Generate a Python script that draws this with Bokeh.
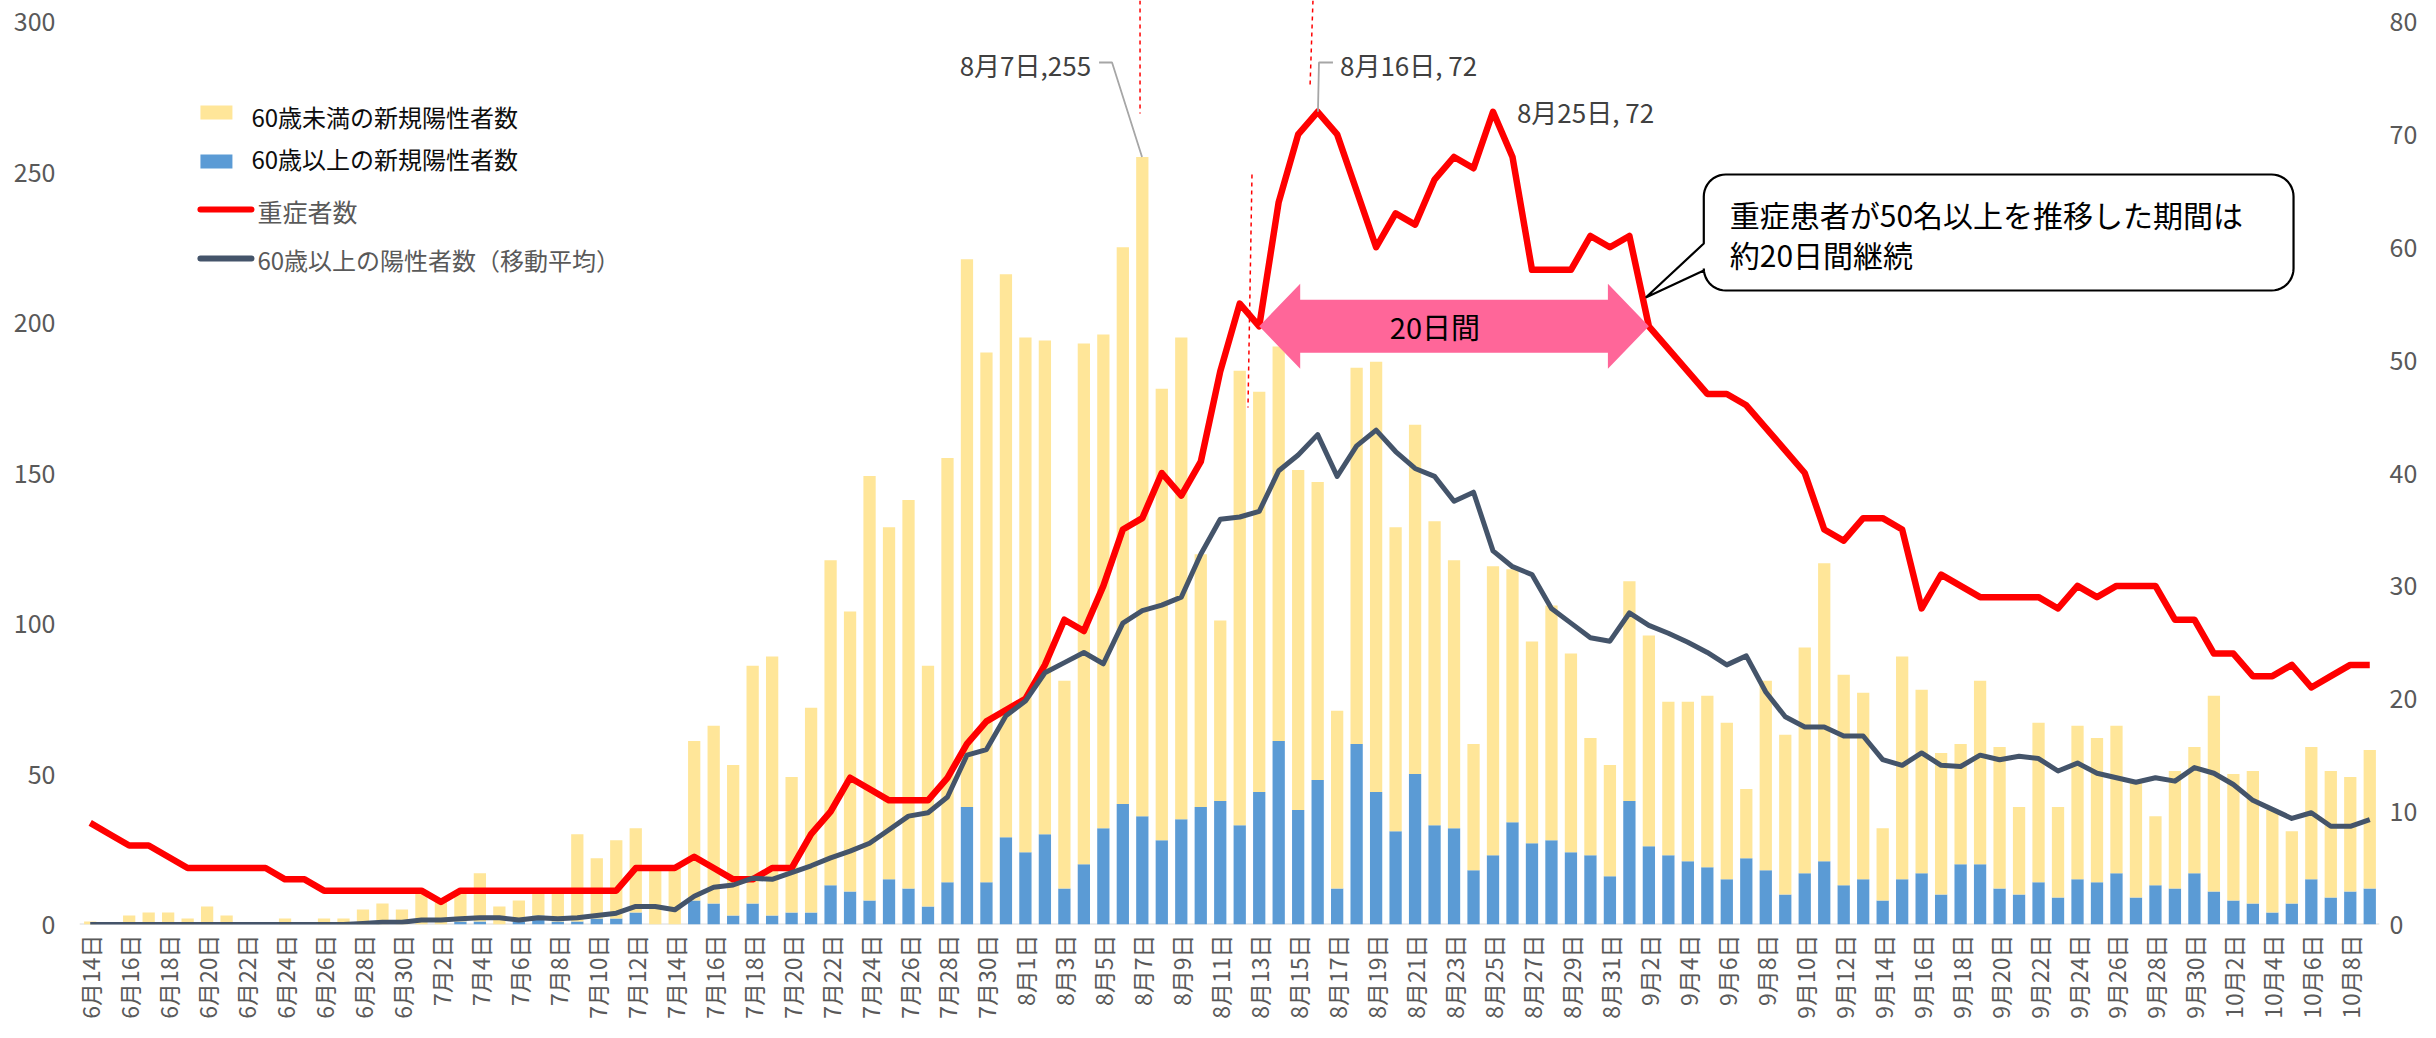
import numpy as np
import pandas as pd
from bokeh.plotting import figure
from bokeh.models import Range1d, LinearAxis, FixedTicker, Label, Span, ColumnDataSource
from bokeh.embed import file_html
from bokeh.resources import INLINE

# ---------------- data ----------------
dates = pd.date_range("2020-06-14", periods=118, freq="D")
date_labels = [f"{d.month}月{d.day}日" for d in dates]

# 60歳未満の新規陽性者数
under60 = [1, 0, 3, 4, 4, 2, 6, 3, 0, 0, 2, 0, 2, 2, 5, 7, 5,
           11, 8, 10, 16, 6, 7, 8, 10, 29, 20, 26, 28, 19, 19, 53, 59, 50, 79, 86, 45,
           68, 108, 93, 141, 117, 129, 80, 141, 182, 176, 187,
           171, 164, 69, 173, 164, 185, 219, 150, 160, 84, 60, 151, 133, 131, 113, 99,
           59, 125, 143, 101, 116, 101, 89, 42, 96, 84, 67, 78, 66, 39, 37,
           73, 70, 51, 53, 57, 52, 23, 63, 53, 75, 99, 70, 62, 24, 74, 61, 47, 40, 61,
           47, 29, 53, 30, 51, 48, 49, 38, 23, 39, 42,
           65, 42, 44, 34, 24, 44, 42, 38, 46]
# 60歳以上の新規陽性者数
over60 = [0] * 17 + \
         [0, 0, 1, 1, 0, 1, 3, 1, 1, 2, 2, 4, 0, 0, 8, 7, 3, 7, 3, 4, 4, 13, 11, 8, 15,
          12, 6, 14, 39, 14, 29] + \
         [24, 30, 12, 20, 32, 40, 36, 28, 35, 39, 41, 33, 44, 61, 38, 48, 12, 60, 44,
          31, 50, 33, 32, 18, 23, 34, 27, 28, 24, 23, 16] + \
         [41, 26, 23, 21, 19, 15, 22, 18, 10, 17, 21, 13, 15, 8, 15, 17, 10, 20, 20, 12,
          10, 14, 9, 15, 14, 17, 9, 13, 12, 17] + \
         [11, 8, 7, 4, 7, 15, 9, 11, 12]
# 重症者数 (right axis)
severe = [9, 8, 7, 7, 6, 5, 5, 5, 5, 5, 4, 4, 3, 3, 3, 3, 3,
          3, 2, 3, 3, 3, 3, 3, 3, 3, 3, 3, 5, 5, 5, 6, 5, 4, 4, 5, 5, 8, 10, 13, 12, 11,
          11, 11, 13, 16, 18, 19,
          20, 23, 27, 26, 30, 35, 36, 40, 38, 41, 49, 55, 53, 64, 70, 72, 70, 65, 60, 63,
          62, 66, 68, 67, 72, 68, 58, 58, 58, 61, 60,
          61, 53, 51, 49, 47, 47, 46, 44, 42, 40, 35, 34, 36, 36, 35, 28, 31, 30, 29, 29,
          29, 29, 28, 30, 29, 30, 30, 30, 27, 27,
          24, 24, 22, 22, 23, 21, 22, 23, 23]
# 60歳以上の陽性者数（移動平均） (right axis)
avg60 = [0] * 14 + [0.1, 0.2, 0.2] + \
        [0.4, 0.4, 0.5, 0.6, 0.6, 0.4, 0.6, 0.5, 0.6, 0.8, 1.0, 1.6, 1.6, 1.3, 2.5, 3.3,
         3.5, 4.1, 4.0, 4.6, 5.2, 5.9, 6.5, 7.2, 8.4, 9.6, 9.9, 11.3, 15.0, 15.5, 18.5] + \
        [19.8, 22.3, 23.2, 24.1, 23.1, 26.7, 27.8, 28.3, 29.0, 32.8, 35.9, 36.1, 36.6,
         40.2, 41.6, 43.4, 39.7, 42.4, 43.8, 41.9, 40.4, 39.7, 37.5, 38.3, 33.1, 31.7,
         31.0, 28.0, 26.7, 25.4, 25.1] + \
        [27.6, 26.5, 25.8, 25.0, 24.1, 23.0, 23.8, 20.6, 18.4, 17.5, 17.5, 16.7, 16.7,
         14.6, 14.1, 15.2, 14.1, 14.0, 15.0, 14.6, 14.9, 14.7, 13.6, 14.3, 13.4, 13.0,
         12.6, 13.0, 12.7, 13.9] + \
        [13.4, 12.4, 11.0, 10.2, 9.4, 9.9, 8.7, 8.7, 9.3]

left_ticks = [0, 50, 100, 150, 200, 250, 300]
right_ticks = [0, 10, 20, 30, 40, 50, 60, 70, 80]

# ---------------- layout constants ----------------
FIG_W, FIG_H = 2420, 1022
BL, BR, BT, BB = 79, 40, 0, 98
FRAME_W = FIG_W - BL - BR
FRAME_H = FIG_H - BT - BB
DAY_PX = FRAME_W / 118.05
X0 = -0.55
X1 = X0 + FRAME_W / DAY_PX
PX_PER_UNIT = (FRAME_H - 21) / 300.0
Y_END = FRAME_H / PX_PER_UNIT
Y_END_R = Y_END * 80 / 300.0
FRAME_BOTTOM = BT + FRAME_H


def xd(px):  # screen px -> x data
    return X0 + (px - BL) / DAY_PX


def yd(py):  # screen px -> left-axis data
    return (FRAME_BOTTOM - py) / PX_PER_UNIT


FONT = "Noto Sans CJK JP"

x = list(range(len(dates)))
src = ColumnDataSource(dict(x=x, under60=under60, over60=over60, severe=severe,
                            avg60=avg60, label=date_labels))

p = figure(width=FIG_W, height=FIG_H, output_backend="svg", toolbar_location=None,
           x_range=Range1d(X0, X1), y_range=Range1d(0, Y_END),
           min_border_left=BL, min_border_right=BR, min_border_top=BT,
           min_border_bottom=BB)
p.extra_y_ranges = {"right": Range1d(0, Y_END_R)}
p.outline_line_color = None
p.xgrid.visible = False
p.ygrid.visible = False
p.background_fill_color = "white"


def style_axis(a, size, standoff):
    a.major_label_text_font = FONT
    a.major_label_text_font_size = size
    a.major_label_text_color = "#595959"
    a.major_label_standoff = standoff
    a.axis_line_color = None
    a.major_tick_line_color = None
    a.minor_tick_line_color = None
    a.major_tick_out = 0
    a.major_tick_in = 0
    a.minor_tick_out = 0
    a.minor_tick_in = 0
    a.axis_label_standoff = 0


ax = p.xaxis[0]
xt = list(range(0, len(dates), 2))
ax.ticker = FixedTicker(ticks=xt)
ax.major_label_overrides = {i: date_labels[i] for i in xt}
ax.major_label_orientation = np.pi / 2
style_axis(ax, "23px", 10)

ly = p.yaxis[0]
ly.ticker = FixedTicker(ticks=left_ticks)
style_axis(ly, "25px", 24)

ry = LinearAxis(y_range_name="right", ticker=FixedTicker(ticks=right_ticks))
style_axis(ry, "25px", 10)
p.add_layout(ry, "right")

p.add_layout(Span(location=0, dimension="width", line_color="#D9D9D9",
                  line_width=2, level="underlay"))

# bars
p.vbar_stack(["over60", "under60"], x="x", width=0.63, source=src,
             fill_color=["#5B9BD5", "#FFE699"], line_color=None)

# lines
p.line("x", "severe", source=src, y_range_name="right", line_color="#FF0000",
       line_width=6.5, line_join="round")
p.line("x", "avg60", source=src, y_range_name="right", line_color="#44546A",
       line_width=5, line_join="round")

# red dotted guide lines
for (ax0, ay0, ax1, ay1) in [(1140, 0, 1140, 113), (1313, 0, 1310, 88),
                             (1252, 174, 1248, 407)]:
    p.line([xd(ax0), xd(ax1)], [yd(ay0), yd(ay1)], line_color="#FF0000",
           line_width=1.5, line_dash="4 4")

# leader lines
p.line([xd(1099), xd(1112), xd(1142)], [yd(62), yd(62), 255],
       line_color="#A6A6A6", line_width=1.8)
p.line([xd(1333), xd(1319), xd(1318)], [yd(62), yd(62), 72 * 3.75],
       line_color="#A6A6A6", line_width=1.8)

# data callout labels
for (tx, ty, txt, align) in [(1091, 64, "8月7日,255", "right"),
                             (1340, 64, "8月16日, 72", "left"),
                             (1517, 111, "8月25日, 72", "left")]:
    p.add_layout(Label(x=xd(tx), y=yd(ty), text=txt, text_font=FONT,
                       text_font_size="26px", text_color="#404040",
                       text_align=align, text_baseline="middle"))

# pink double arrow (8/13 -> 9/2 at severe = 53)
xa, xb = 60, 80
yc = 53 * 300 / 80.0
hl = 41 / DAY_PX
hs = 26.5 / PX_PER_UNIT
hh = 42.5 / PX_PER_UNIT
p.patch([xa, xa + hl, xa + hl, xb - hl, xb - hl, xb, xb - hl, xb - hl, xa + hl, xa + hl],
        [yc, yc + hh, yc + hs, yc + hs, yc + hh, yc, yc - hh, yc - hs, yc - hs, yc - hh],
        fill_color="#FF6699", line_color=None)
p.add_layout(Label(x=xd(1435), y=yc, text="20日間", text_font=FONT,
                   text_font_size="29px", text_color="black",
                   text_align="center", text_baseline="middle"))

# callout box with pointer
bx0, by0, bx1, by1, r = 1704, 174, 2294, 290, 22
pts = [(bx0 + r, by0), (bx1 - r, by0)]
for t in np.linspace(-np.pi / 2, 0, 12):
    pts.append((bx1 - r + r * np.cos(t), by0 + r + r * np.sin(t)))
for t in np.linspace(0, np.pi / 2, 12):
    pts.append((bx1 - r + r * np.cos(t), by1 - r + r * np.sin(t)))
for t in np.linspace(np.pi / 2, np.pi, 12):
    pts.append((bx0 + r + r * np.cos(t), by1 - r + r * np.sin(t)))
pts += [(bx0, 270), (1646, 297), (bx0, 243)]
for t in np.linspace(np.pi, 1.5 * np.pi, 12):
    pts.append((bx0 + r + r * np.cos(t), by0 + r + r * np.sin(t)))
p.patch([xd(a) for a, b in pts], [yd(b) for a, b in pts], fill_color="white",
        line_color="black", line_width=2.2)
p.add_layout(Label(x=xd(1730), y=yd(213), text="重症患者が50名以上を推移した期間は",
                   text_font=FONT, text_font_size="30px", text_color="black",
                   text_align="left", text_baseline="middle"))
p.add_layout(Label(x=xd(1730), y=yd(253), text="約20日間継続",
                   text_font=FONT, text_font_size="30px", text_color="black",
                   text_align="left", text_baseline="middle"))

# legend (drawn manually)
p.quad(left=[xd(200)], right=[xd(232)], top=[yd(105)], bottom=[yd(119)],
       fill_color="#FFE699", line_color=None)
p.quad(left=[xd(200)], right=[xd(232)], top=[yd(154)], bottom=[yd(168)],
       fill_color="#5B9BD5", line_color=None)
p.line([xd(200), xd(251)], [yd(209), yd(209)], line_color="#FF0000", line_width=6,
       line_cap="round")
p.line([xd(200), xd(251)], [yd(258), yd(258)], line_color="#44546A", line_width=6,
       line_cap="round")
for (tx, ty, txt, col, fs) in [(251, 116, "60歳未満の新規陽性者数", "#0D0D0D", "24px"),
                               (251, 158, "60歳以上の新規陽性者数", "#0D0D0D", "24px"),
                               (257, 210, "重症者数", "#595959", "25px"),
                               (257, 259, "60歳以上の陽性者数（移動平均）", "#595959", "24px")]:
    p.add_layout(Label(x=xd(tx), y=yd(ty), text=txt, text_font=FONT,
                       text_font_size=fs, text_color=col, text_align="left",
                       text_baseline="middle"))

open("out.html", "w").write(file_html(p, INLINE))
